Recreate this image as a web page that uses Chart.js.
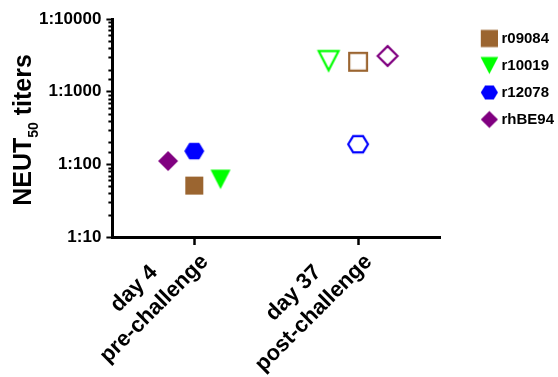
<!DOCTYPE html>
<html>
<head>
<meta charset="utf-8">
<script src="https://cdn.jsdelivr.net/npm/chart.js@4.4.0/dist/chart.umd.min.js"></script>
<style>
  html, body { margin: 0; padding: 0; background: #fff; }
  #wrap { width: 558px; height: 377px; }
</style>
</head>
<body>
<div id="wrap"><canvas id="titer-chart"></canvas></div>
<script>
const categories = [["day 4", "pre-challenge"], ["day 37", "post-challenge"]];
const animals = ["r09084", "r10019", "r12078", "rhBE94"];
const r09084 = [51, 2580];
const r10019 = [62, 2670];
const r12078 = [152, 189];
const rhBE94 = [111, 3100];
const yTicks = [10, 100, 1000, 10000];

const seriesValues = [r09084, r10019, r12078, rhBE94];
const colors = ["#9b6530", "#00ff00", "#0000ff", "#800080"];
const shapes = ["square", "triangleDown", "hexagon", "diamond"];
const sizes = [9, 9.7, 10, 10];
// horizontal spread of the symbols around each category
const jitter = [[0, 0], [0.16, -0.18], [0, 0], [-0.16, 0.18]];
const FONT = "'Liberation Sans', Arial, sans-serif";

function shapePath(ctx, shape, cx, cy, r) {
  ctx.beginPath();
  if (shape === "square") {
    ctx.rect(cx - r, cy - r, 2 * r, 2 * r);
  } else if (shape === "triangleDown") {
    ctx.moveTo(cx - r * 1.03, cy - r);
    ctx.lineTo(cx + r * 1.03, cy - r);
    ctx.lineTo(cx, cy + r);
    ctx.closePath();
  } else if (shape === "hexagon") {
    const h = r * 0.82;
    ctx.moveTo(cx - r, cy);
    ctx.lineTo(cx - r / 2, cy - h);
    ctx.lineTo(cx + r / 2, cy - h);
    ctx.lineTo(cx + r, cy);
    ctx.lineTo(cx + r / 2, cy + h);
    ctx.lineTo(cx - r / 2, cy + h);
    ctx.closePath();
  } else {
    ctx.moveTo(cx, cy - r);
    ctx.lineTo(cx + r, cy);
    ctx.lineTo(cx, cy + r);
    ctx.lineTo(cx - r, cy);
    ctx.closePath();
  }
}

function makeMarker(shape, color, filled, r, width, cx) {
  const c = document.createElement("canvas");
  c.width = width || 28;
  c.height = 28;
  const ctx = c.getContext("2d");
  if (filled) {
    shapePath(ctx, shape, cx || c.width / 2, 14, r);
    ctx.fillStyle = color;
    ctx.fill();
  } else {
    shapePath(ctx, shape, cx || c.width / 2, 14, r - 0.1);
    ctx.strokeStyle = color;
    ctx.lineWidth = 2.2;
    ctx.stroke();
  }
  return c;
}

const datasets = animals.map((name, i) => ({
  label: name,
  data: seriesValues[i].map((v, j) => ({ x: j + 1 + jitter[i][j], y: v })),
  pointStyle: [
    makeMarker(shapes[i], colors[i], true, sizes[i]),
    makeMarker(shapes[i], colors[i], false, sizes[i]),
  ],
  backgroundColor: colors[i],
  borderColor: colors[i],
}));

// legend symbols sit on a wider canvas so they line up away from the axis
const legendMarkers = animals.map((n, i) =>
  makeMarker(shapes[i], colors[i], true, 8.6, 80, 56.4)
);

const isMajor = (v) => yTicks.includes(Math.round(v));

const extras = {
  id: "extras",
  afterDraw(chart) {
    const { ctx, chartArea } = chart;
    const x = chart.scales.x;
    const y = chart.scales.y;
    ctx.save();

    // minor ticks on the log axis
    ctx.strokeStyle = "#000";
    ctx.lineWidth = 2;
    y.ticks.forEach((t) => {
      if (isMajor(t.value)) return;
      const py = Math.round(y.getPixelForValue(t.value)) + 0.5;
      ctx.beginPath();
      ctx.moveTo(chartArea.left - 4, py);
      ctx.lineTo(chartArea.left, py);
      ctx.stroke();
    });

    // y axis title with subscript
    ctx.fillStyle = "#000";
    ctx.textBaseline = "alphabetic";
    ctx.textAlign = "left";
    const big = "bold 25px " + FONT;
    const small = "bold 14px " + FONT;
    ctx.font = big;
    const w1 = ctx.measureText("NEUT").width;
    const w3 = ctx.measureText(" titers").width;
    ctx.font = small;
    const w2 = ctx.measureText("50").width;
    const total = w1 + w2 + w3;
    ctx.translate(31, 130);
    ctx.rotate(-Math.PI / 2);
    let cx = -total / 2;
    ctx.font = big;
    ctx.fillText("NEUT", cx, 0);
    cx += w1;
    ctx.font = small;
    ctx.fillText("50", cx, 7);
    cx += w2;
    ctx.font = big;
    ctx.fillText(" titers", cx, 0);
    ctx.restore();

    // rotated two-line category labels
    ctx.save();
    ctx.fillStyle = "#000";
    ctx.font = "bold 22px " + FONT;
    ctx.textAlign = "center";
    ctx.textBaseline = "middle";
    categories.forEach((lines, i) => {
      const px = x.getPixelForValue(i + 1);
      const py = x.top + 8;
      const wMax = Math.max(...lines.map((l) => ctx.measureText(l).width));
      ctx.save();
      ctx.translate(px, py);
      ctx.rotate(-Math.PI / 4);
      ctx.fillText(lines[0], -wMax / 2 - 2, -11.5);
      ctx.fillText(lines[1], -wMax / 2 - 2, 17);
      ctx.restore();
    });
    ctx.restore();
  },
};

new Chart(document.getElementById("titer-chart"), {
  type: "scatter",
  data: { datasets },
  options: {
    responsive: true,
    maintainAspectRatio: false,
    animation: false,
    layout: { padding: { left: 34, top: 19, right: 0, bottom: 132 } },
    scales: {
      x: {
        type: "linear",
        min: 0.5,
        max: 2.5,
        afterBuildTicks: (scale) => {
          scale.ticks = categories.map((c, i) => ({ value: i + 1 }));
        },
        ticks: { display: false },
        grid: {
          drawOnChartArea: false,
          drawTicks: true,
          tickLength: 8,
          tickColor: "#000",
          tickWidth: 2.5,
        },
        border: { color: "#000", width: 3 },
      },
      y: {
        type: "logarithmic",
        min: yTicks[0],
        max: yTicks[yTicks.length - 1],
        ticks: {
          autoSkip: false,
          padding: 5,
          color: "#000",
          font: { family: FONT, size: 17, weight: "bold" },
          callback: (v) => (isMajor(v) ? "1:" + Math.round(v) : ""),
        },
        grid: {
          drawOnChartArea: false,
          drawTicks: true,
          tickLength: 6,
          tickWidth: 2,
          tickColor: (c) => (c.tick && isMajor(c.tick.value) ? "#000" : "rgba(0,0,0,0)"),
        },
        border: { color: "#000", width: 3 },
      },
    },
    plugins: {
      tooltip: { enabled: false },
      legend: {
        position: "right",
        align: "start",
        maxWidth: 118,
        labels: {
          usePointStyle: true,
          pointStyleWidth: 42,
          padding: 12,
          color: "#000",
          font: { family: FONT, size: 15, weight: "bold" },
          generateLabels: (chart) =>
            chart.data.datasets.map((ds, i) => ({
              text: ds.label,
              pointStyle: legendMarkers[i],
              fillStyle: colors[i],
              strokeStyle: "rgba(0,0,0,0)",
              lineWidth: 0,
              hidden: false,
              datasetIndex: i,
            })),
        },
      },
    },
  },
  plugins: [extras],
});
</script>
</body>
</html>
